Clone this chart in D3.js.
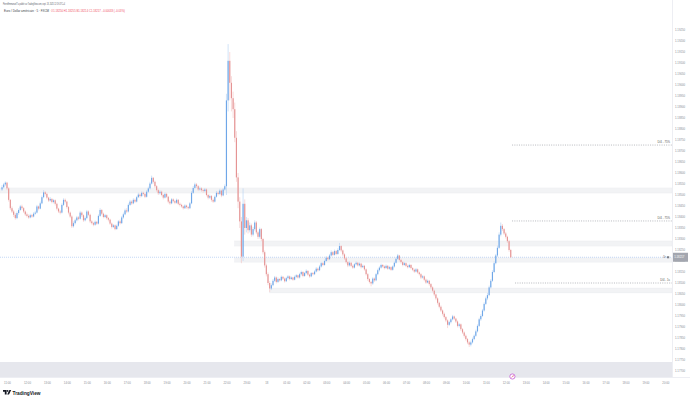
<!DOCTYPE html>
<html><head><meta charset="utf-8">
<script src="https://cdn.jsdelivr.net/npm/d3@7"></script>
<style>
html,body{margin:0;padding:0;background:#fff}
svg{display:block}
text{font-family:"Liberation Sans","DejaVu Sans",Arial,sans-serif}
</style>
</head><body>
<svg id="c" width="690" height="400"></svg>
<script>
// ---------- DATA (EUR/USD, 5-minute candles, chart time UTC+4) ----------
const firstCandle = "2025-09-17T10:45:00Z";
const candleMinutes = 5;

const opens = [1.18525,1.18535,1.18548,1.18556,1.18530,1.18478,1.18440,1.18425,1.18410,1.18395,
1.18418,1.18432,1.18448,1.18440,1.18425,1.18412,1.18405,1.18398,1.18408,1.18402,
1.18415,1.18420,1.18448,1.18438,1.18462,1.18490,1.18512,1.18505,1.18488,1.18475,
1.18482,1.18468,1.18476,1.18460,1.18438,1.18425,1.18420,1.18455,1.18478,1.18470,
1.18445,1.18420,1.18402,1.18358,1.18372,1.18385,1.18398,1.18392,1.18420,1.18408,
1.18385,1.18395,1.18425,1.18410,1.18380,1.18372,1.18365,1.18378,1.18370,1.18405,
1.18432,1.18415,1.18400,1.18408,1.18395,1.18388,1.18370,1.18355,1.18362,1.18345,
1.18360,1.18380,1.18372,1.18398,1.18412,1.18430,1.18425,1.18455,1.18470,1.18462,
1.18478,1.18470,1.18490,1.18502,1.18495,1.18510,1.18505,1.18492,1.18515,1.18530,
1.18552,1.18578,1.18560,1.18540,1.18522,1.18508,1.18515,1.18500,1.18488,1.18505,
1.18492,1.18470,1.18462,1.18480,1.18472,1.18465,1.18478,1.18460,1.18455,1.18448,
1.18440,1.18452,1.18445,1.18440,1.18462,1.18510,1.18532,1.18548,1.18540,1.18525,
1.18530,1.18522,1.18518,1.18525,1.18500,1.18488,1.18495,1.18478,1.18470,1.18492,
1.18510,1.18505,1.18520,1.18498,1.18525,1.18540,1.18930,1.19110,1.19010,1.18940,
1.18890,1.18760,1.18580,1.18470,1.18380,1.18220,1.18460,1.18350,1.18385,1.18340,
1.18362,1.18320,1.18345,1.18375,1.18330,1.18310,1.18345,1.18300,1.18240,1.18180,
1.18140,1.18100,1.18075,1.18090,1.18110,1.18125,1.18105,1.18118,1.18112,1.18128,
1.18120,1.18108,1.18122,1.18130,1.18118,1.18125,1.18115,1.18128,1.18135,1.18125,
1.18140,1.18150,1.18132,1.18145,1.18155,1.18138,1.18130,1.18145,1.18140,1.18152,
1.18165,1.18158,1.18175,1.18190,1.18182,1.18200,1.18215,1.18208,1.18225,1.18240,
1.18228,1.18245,1.18232,1.18250,1.18268,1.18248,1.18230,1.18212,1.18195,1.18180,
1.18192,1.18178,1.18170,1.18185,1.18192,1.18180,1.18188,1.18172,1.18178,1.18162,
1.18140,1.18118,1.18105,1.18098,1.18120,1.18112,1.18140,1.18158,1.18170,1.18182,
1.18175,1.18168,1.18178,1.18165,1.18172,1.18160,1.18175,1.18192,1.18210,1.18225,
1.18205,1.18195,1.18182,1.18190,1.18178,1.18172,1.18182,1.18168,1.18160,1.18152,
1.18162,1.18148,1.18140,1.18125,1.18130,1.18115,1.18102,1.18110,1.18095,1.18080,
1.18065,1.18048,1.18030,1.18010,1.17992,1.17975,1.17960,1.17945,1.17930,1.17910,
1.17922,1.17935,1.17948,1.17938,1.17925,1.17905,1.17912,1.17890,1.17875,1.17860,
1.17845,1.17830,1.17820,1.17830,1.17845,1.17860,1.17880,1.17905,1.17935,1.17950,
1.17975,1.18005,1.18030,1.18045,1.18080,1.18110,1.18150,1.18190,1.18225,1.18260,
1.18320,1.18360,1.18345,1.18325,1.18310,1.18290,1.18250];

const highs = [1.18545,1.18555,1.18562,1.18560,1.18535,1.18482,1.18448,1.18432,1.18418,1.18425,
1.18440,1.18455,1.18456,1.18445,1.18430,1.18420,1.18412,1.18415,1.18414,1.18422,
1.18428,1.18455,1.18452,1.18470,1.18498,1.18522,1.18518,1.18510,1.18492,1.18490,
1.18486,1.18482,1.18480,1.18465,1.18442,1.18432,1.18462,1.18485,1.18484,1.18474,
1.18450,1.18425,1.18408,1.18380,1.18392,1.18405,1.18404,1.18428,1.18425,1.18412,
1.18402,1.18432,1.18430,1.18415,1.18386,1.18378,1.18384,1.18382,1.18412,1.18440,
1.18436,1.18420,1.18414,1.18412,1.18400,1.18392,1.18375,1.18368,1.18366,1.18366,
1.18386,1.18388,1.18405,1.18420,1.18438,1.18440,1.18462,1.18478,1.18476,1.18485,
1.18484,1.18496,1.18510,1.18508,1.18516,1.18515,1.18510,1.18522,1.18538,1.18560,
1.18588,1.18582,1.18565,1.18545,1.18528,1.18522,1.18520,1.18505,1.18512,1.18510,
1.18496,1.18476,1.18486,1.18485,1.18478,1.18484,1.18482,1.18466,1.18460,1.18452,
1.18458,1.18456,1.18450,1.18468,1.18518,1.18540,1.18556,1.18554,1.18545,1.18538,
1.18535,1.18528,1.18532,1.18530,1.18505,1.18502,1.18500,1.18484,1.18498,1.18518,
1.18516,1.18528,1.18525,1.18532,1.18548,1.18960,1.19186,1.19150,1.19040,1.18970,
1.18920,1.18790,1.18600,1.18490,1.18400,1.18530,1.18480,1.18400,1.18395,1.18375,
1.18370,1.18355,1.18385,1.18382,1.18338,1.18352,1.18350,1.18305,1.18248,1.18188,
1.18148,1.18108,1.18098,1.18118,1.18132,1.18130,1.18125,1.18122,1.18134,1.18132,
1.18125,1.18128,1.18136,1.18134,1.18130,1.18128,1.18134,1.18140,1.18138,1.18146,
1.18156,1.18154,1.18150,1.18162,1.18158,1.18142,1.18150,1.18150,1.18158,1.18172,
1.18170,1.18182,1.18196,1.18195,1.18206,1.18222,1.18220,1.18232,1.18248,1.18245,
1.18252,1.18250,1.18258,1.18282,1.18272,1.18252,1.18235,1.18218,1.18200,1.18198,
1.18196,1.18184,1.18190,1.18198,1.18196,1.18194,1.18192,1.18184,1.18182,1.18166,
1.18145,1.18122,1.18110,1.18126,1.18125,1.18146,1.18165,1.18176,1.18188,1.18186,
1.18180,1.18184,1.18182,1.18178,1.18176,1.18180,1.18198,1.18216,1.18232,1.18228,
1.18210,1.18200,1.18196,1.18194,1.18184,1.18188,1.18186,1.18172,1.18165,1.18168,
1.18166,1.18152,1.18145,1.18136,1.18134,1.18120,1.18116,1.18114,1.18100,1.18085,
1.18070,1.18052,1.18035,1.18015,1.17998,1.17980,1.17966,1.17950,1.17935,1.17928,
1.17940,1.17955,1.17952,1.17942,1.17930,1.17918,1.17916,1.17895,1.17880,1.17866,
1.17850,1.17836,1.17838,1.17852,1.17866,1.17888,1.17912,1.17942,1.17958,1.17982,
1.18012,1.18038,1.18055,1.18088,1.18118,1.18158,1.18198,1.18232,1.18270,1.18330,
1.18375,1.18368,1.18350,1.18332,1.18315,1.18296,1.18255];

const lows = [1.18518,1.18530,1.18540,1.18522,1.18470,1.18432,1.18418,1.18400,1.18388,1.18390,
1.18410,1.18428,1.18432,1.18418,1.18405,1.18398,1.18392,1.18394,1.18396,1.18398,
1.18410,1.18416,1.18430,1.18435,1.18458,1.18485,1.18498,1.18480,1.18468,1.18470,
1.18462,1.18462,1.18452,1.18430,1.18418,1.18412,1.18416,1.18450,1.18462,1.18438,
1.18412,1.18395,1.18350,1.18352,1.18366,1.18380,1.18385,1.18388,1.18400,1.18378,
1.18380,1.18390,1.18404,1.18372,1.18366,1.18358,1.18360,1.18364,1.18366,1.18400,
1.18408,1.18394,1.18395,1.18388,1.18380,1.18364,1.18348,1.18350,1.18340,1.18342,
1.18355,1.18366,1.18368,1.18392,1.18408,1.18418,1.18420,1.18450,1.18455,1.18458,
1.18464,1.18466,1.18486,1.18488,1.18490,1.18498,1.18486,1.18488,1.18510,1.18525,
1.18548,1.18552,1.18532,1.18515,1.18500,1.18502,1.18494,1.18480,1.18484,1.18486,
1.18462,1.18455,1.18458,1.18466,1.18458,1.18460,1.18454,1.18448,1.18442,1.18434,
1.18436,1.18438,1.18434,1.18436,1.18458,1.18505,1.18526,1.18532,1.18518,1.18520,
1.18515,1.18510,1.18512,1.18494,1.18480,1.18482,1.18470,1.18464,1.18466,1.18488,
1.18498,1.18500,1.18490,1.18494,1.18520,1.18500,1.18880,1.18930,1.18880,1.18850,
1.18740,1.18560,1.18440,1.18350,1.18190,1.18200,1.18320,1.18330,1.18325,1.18330,
1.18310,1.18312,1.18338,1.18322,1.18300,1.18302,1.18290,1.18230,1.18170,1.18130,
1.18090,1.18059,1.18068,1.18085,1.18104,1.18098,1.18100,1.18106,1.18108,1.18114,
1.18102,1.18104,1.18116,1.18112,1.18114,1.18110,1.18112,1.18122,1.18120,1.18120,
1.18134,1.18126,1.18128,1.18140,1.18132,1.18124,1.18126,1.18134,1.18136,1.18148,
1.18152,1.18154,1.18170,1.18176,1.18178,1.18196,1.18202,1.18204,1.18220,1.18222,
1.18224,1.18226,1.18228,1.18246,1.18240,1.18222,1.18205,1.18188,1.18172,1.18175,
1.18172,1.18164,1.18166,1.18180,1.18175,1.18175,1.18166,1.18168,1.18156,1.18134,
1.18110,1.18098,1.18085,1.18092,1.18105,1.18108,1.18135,1.18152,1.18165,1.18170,
1.18162,1.18164,1.18160,1.18160,1.18155,1.18156,1.18170,1.18188,1.18205,1.18198,
1.18188,1.18176,1.18178,1.18172,1.18166,1.18168,1.18162,1.18154,1.18146,1.18148,
1.18142,1.18134,1.18118,1.18120,1.18108,1.18096,1.18098,1.18088,1.18072,1.18058,
1.18040,1.18022,1.18002,1.17985,1.17968,1.17952,1.17938,1.17922,1.17895,1.17904,
1.17916,1.17930,1.17932,1.17918,1.17898,1.17898,1.17882,1.17868,1.17852,1.17838,
1.17822,1.17809,1.17812,1.17825,1.17840,1.17855,1.17875,1.17900,1.17928,1.17945,
1.17970,1.18000,1.18022,1.18040,1.18075,1.18105,1.18145,1.18185,1.18218,1.18255,
1.18312,1.18336,1.18318,1.18302,1.18282,1.18242,1.18214];

const closes = [1.18535,1.18548,1.18556,1.18530,1.18478,1.18440,1.18425,1.18410,1.18395,1.18418,
1.18432,1.18448,1.18440,1.18425,1.18412,1.18405,1.18398,1.18408,1.18402,1.18415,
1.18420,1.18448,1.18438,1.18462,1.18490,1.18512,1.18505,1.18488,1.18475,1.18482,
1.18468,1.18476,1.18460,1.18438,1.18425,1.18420,1.18455,1.18478,1.18470,1.18445,
1.18420,1.18402,1.18358,1.18372,1.18385,1.18398,1.18392,1.18420,1.18408,1.18385,
1.18395,1.18425,1.18410,1.18380,1.18372,1.18365,1.18378,1.18370,1.18405,1.18432,
1.18415,1.18400,1.18408,1.18395,1.18388,1.18370,1.18355,1.18362,1.18345,1.18360,
1.18380,1.18372,1.18398,1.18412,1.18430,1.18425,1.18455,1.18470,1.18462,1.18478,
1.18470,1.18490,1.18502,1.18495,1.18510,1.18505,1.18492,1.18515,1.18530,1.18552,
1.18578,1.18560,1.18540,1.18522,1.18508,1.18515,1.18500,1.18488,1.18505,1.18492,
1.18470,1.18462,1.18480,1.18472,1.18465,1.18478,1.18460,1.18455,1.18448,1.18440,
1.18452,1.18445,1.18440,1.18462,1.18510,1.18532,1.18548,1.18540,1.18525,1.18530,
1.18522,1.18518,1.18525,1.18500,1.18488,1.18495,1.18478,1.18470,1.18492,1.18510,
1.18505,1.18520,1.18498,1.18525,1.18540,1.18930,1.19110,1.19010,1.18940,1.18890,
1.18760,1.18580,1.18470,1.18380,1.18220,1.18460,1.18350,1.18385,1.18340,1.18362,
1.18320,1.18345,1.18375,1.18330,1.18310,1.18345,1.18300,1.18240,1.18180,1.18140,
1.18100,1.18075,1.18090,1.18110,1.18125,1.18105,1.18118,1.18112,1.18128,1.18120,
1.18108,1.18122,1.18130,1.18118,1.18125,1.18115,1.18128,1.18135,1.18125,1.18140,
1.18150,1.18132,1.18145,1.18155,1.18138,1.18130,1.18145,1.18140,1.18152,1.18165,
1.18158,1.18175,1.18190,1.18182,1.18200,1.18215,1.18208,1.18225,1.18240,1.18228,
1.18245,1.18232,1.18250,1.18268,1.18248,1.18230,1.18212,1.18195,1.18180,1.18192,
1.18178,1.18170,1.18185,1.18192,1.18180,1.18188,1.18172,1.18178,1.18162,1.18140,
1.18118,1.18105,1.18098,1.18120,1.18112,1.18140,1.18158,1.18170,1.18182,1.18175,
1.18168,1.18178,1.18165,1.18172,1.18160,1.18175,1.18192,1.18210,1.18225,1.18205,
1.18195,1.18182,1.18190,1.18178,1.18172,1.18182,1.18168,1.18160,1.18152,1.18162,
1.18148,1.18140,1.18125,1.18130,1.18115,1.18102,1.18110,1.18095,1.18080,1.18065,
1.18048,1.18030,1.18010,1.17992,1.17975,1.17960,1.17945,1.17930,1.17910,1.17922,
1.17935,1.17948,1.17938,1.17925,1.17905,1.17912,1.17890,1.17875,1.17860,1.17845,
1.17830,1.17820,1.17830,1.17845,1.17860,1.17880,1.17905,1.17935,1.17950,1.17975,
1.18005,1.18030,1.18045,1.18080,1.18110,1.18150,1.18190,1.18225,1.18260,1.18320,
1.18360,1.18345,1.18325,1.18310,1.18290,1.18250,1.18217];

const priceTicks = [1.17700,1.17750,1.17800,1.17850,1.17900,1.17950,1.18000,1.18050,
1.18100,1.18150,1.18200,1.18250,1.18300,1.18350,1.18400,1.18450,1.18500,1.18550,1.18600,
1.18650,1.18700,1.18750,1.18800,1.18850,1.18900,1.18950,1.19000,1.19050,1.19100,1.19150,
1.19200,1.19250];

const timeTickStart = "2025-09-17T11:00:00Z";
const timeTickLabels = ["11:00","12:00","13:00","14:00","15:00","16:00","17:00","18:00",
"19:00","20:00","21:00","22:00","23:00","18","01:00","02:00","03:00","04:00","05:00",
"06:00","07:00","08:00","09:00","10:00","11:00","12:00","13:00","14:00","15:00","16:00",
"17:00","18:00","19:00","20:00"];

// grey zones (support / resistance boxes)
const zoneStart  = [null, "2025-09-17T22:25:00Z", "2025-09-17T22:25:00Z", "2025-09-18T00:10:00Z", null];
const zoneBottom = [1.18509, 1.18268, 1.18195, 1.18055, 1.17660];
const zoneTop    = [1.18532, 1.18291, 1.18214, 1.18077, 1.17741];

// dotted levels
const levelStart  = ["2025-09-18T12:19:00Z", "2025-09-18T12:19:00Z", "2025-09-18T12:28:00Z"];
const levelPrice  = [1.18727, 1.18382, 1.18100];
const levelLabels = ["D/4 - 75%", "D/4 - 75%", "D/4 - 1s"];

const lastPrice = 1.18217;
const headerLine1 = "PierreEmmanuelT a publié sur TradingView.com, sept. 18, 2025 12:19 UTC+4";
const headerSymbol = "Euro / Dollar américain · 5 · FXCM";
const headerOHLC = "O1.18250 H1.18255 B1.18214 C1.18217 −0.00033 (−0.03%)";

// ---------- DRAW ----------
const svg = d3.select("#c");
const plotRight = 672, plotBottom = 377;
const upBody = "#6fa7e8", upWick = "#b1d0f3", dnBody = "#e59494", dnWick = "#f3c2c2";

const t0 = Date.parse(firstCandle);
const times = closes.map((_, i) => new Date(t0 + i * candleMinutes * 60000));

const tickStart = new Date(timeTickStart);
const tickValues = timeTickLabels.map((_, i) => new Date(tickStart.getTime() + i * 3600000));

const x = d3.scaleUtc().domain([tickValues[0], tickValues[tickValues.length - 1]]).range([7, 665.35]);
const y = d3.scaleLinear().domain([1.177, 1.1925]).range([371, 30]);

svg.append("defs").append("clipPath").attr("id", "plot")
  .append("rect").attr("x", 0).attr("y", 0).attr("width", plotRight).attr("height", plotBottom);

const plot = svg.append("g").attr("clip-path", "url(#plot)");

// zones
plot.selectAll("rect.zone").data(zoneTop).join("rect").attr("class", "zone")
  .attr("x", (d, i) => zoneStart[i] ? x(new Date(zoneStart[i])) : 0)
  .attr("width", (d, i) => plotRight - (zoneStart[i] ? x(new Date(zoneStart[i])) : 0))
  .attr("y", d => y(d))
  .attr("height", (d, i) => y(zoneBottom[i]) - y(d))
  .attr("fill", (d, i) => i === 4 ? "#e6e7ed" : "#f2f3f5")
  .attr("stroke", (d, i) => i === 4 ? "none" : "#e8e9ee").attr("stroke-width", 0.4);

// current price line (dotted blue)
plot.append("line")
  .attr("x1", 0).attr("x2", plotRight)
  .attr("y1", y(lastPrice)).attr("y2", y(lastPrice))
  .attr("stroke", "#9cc0f0").attr("stroke-width", 0.6).attr("stroke-dasharray", "1,1");

// dotted levels
plot.selectAll("line.level").data(levelPrice).join("line").attr("class", "level")
  .attr("x1", (d, i) => x(new Date(levelStart[i]))).attr("x2", plotRight)
  .attr("y1", d => y(d)).attr("y2", d => y(d))
  .attr("stroke", "#9a9ca3").attr("stroke-width", 0.7).attr("stroke-dasharray", "1,1.3");
svg.selectAll("text.level").data(levelPrice).join("text").attr("class", "level")
  .attr("x", 670).attr("y", d => y(d) - 1.6)
  .attr("text-anchor", "end").attr("font-size", 2.8).attr("fill", "#555")
  .text((d, i) => levelLabels[i]);

// candles
const cg = plot.append("g");
const bw = 1.15;
closes.forEach((c, i) => {
  const o = opens[i], up = c >= o;
  const cx = x(times[i]);
  cg.append("line").attr("x1", cx).attr("x2", cx)
    .attr("y1", y(highs[i])).attr("y2", y(lows[i]))
    .attr("stroke", up ? upWick : dnWick).attr("stroke-width", 0.6);
  const yt = y(Math.max(o, c)), yb = y(Math.min(o, c));
  cg.append("rect").attr("x", cx - bw / 2).attr("width", bw)
    .attr("y", yt).attr("height", Math.max(0.6, yb - yt))
    .attr("fill", up ? upBody : dnBody);
});

// separators
svg.append("line").attr("x1", plotRight + 0.5).attr("x2", plotRight + 0.5).attr("y1", 0).attr("y2", plotBottom)
  .attr("stroke", "#e0e3eb").attr("stroke-width", 0.6);
svg.append("line").attr("x1", 0).attr("x2", 690).attr("y1", plotBottom + 0.5).attr("y2", plotBottom + 0.5)
  .attr("stroke", "#e0e3eb").attr("stroke-width", 0.6);

// axes
const yAxis = svg.append("g").attr("transform", `translate(${plotRight},0)`)
  .call(d3.axisRight(y).tickValues(priceTicks).tickSize(0).tickPadding(3).tickFormat(d3.format(".5f")));
yAxis.select(".domain").remove();
yAxis.selectAll("text").attr("font-size", 2.8).attr("fill", "#8a8d96")
  .attr("font-family", "Liberation Sans, Arial, sans-serif");

const xAxis = svg.append("g").attr("transform", `translate(0,${plotBottom})`)
  .call(d3.axisBottom(x).tickValues(tickValues).tickSize(0).tickPadding(5)
    .tickFormat((d, i) => timeTickLabels[i]));
xAxis.select(".domain").remove();
xAxis.selectAll("text").attr("font-size", 2.8).attr("fill", "#8a8d96")
  .attr("font-family", "Liberation Sans, Arial, sans-serif");

// last price label
const ly = y(lastPrice);
svg.append("rect").attr("x", plotRight + 1).attr("y", ly - 4.5).attr("width", 15).attr("height", 9)
  .attr("fill", "#a3a6af");
svg.append("text").attr("x", plotRight + 2.2).attr("y", ly + 1).attr("font-size", 2.8)
  .attr("fill", "#fff").text(d3.format(".5f")(lastPrice));
svg.append("text").attr("x", 666).attr("y", ly + 1).attr("font-size", 2.6)
  .attr("fill", "#666").attr("text-anchor", "end").text("Dr");
svg.append("rect").attr("x", 667).attr("y", ly - 1).attr("width", 2.2).attr("height", 2)
  .attr("fill", "#7a7d86");

// header
svg.append("text").attr("x", 3).attr("y", 5).attr("font-size", 2.6).attr("fill", "#50535e")
  .attr("textLength", 62).attr("lengthAdjust", "spacingAndGlyphs").text(headerLine1);
svg.append("text").attr("x", 4).attr("y", 12).attr("font-size", 2.6).attr("fill", "#3a3d47")
  .attr("textLength", 45).attr("lengthAdjust", "spacingAndGlyphs").text(headerSymbol);
svg.append("text").attr("x", 51).attr("y", 12).attr("font-size", 2.6).attr("fill", "#f0505f")
  .attr("textLength", 74).attr("lengthAdjust", "spacingAndGlyphs").text(headerOHLC);

// event marker
const ev = svg.append("g").attr("transform", `translate(${x(new Date("2025-09-18T12:20:00Z"))},376.5)`);
ev.append("circle").attr("r", 2.6).attr("fill", "#fff").attr("stroke", "#c45ad6").attr("stroke-width", 0.8);
ev.append("path").attr("d", "M-0.8,1 L0.9,-1 M0.9,-1 L0.9,0").attr("stroke", "#e04a6a").attr("stroke-width", 0.6).attr("fill", "none");

// TradingView logo
const logo = svg.append("g").attr("transform", "translate(3,390)");
logo.append("path").attr("d", "M0,0 H3.6 V4.6 H1.8 V1.8 H0 Z M4.2,4.6 L6.4,0 H8.2 L6,4.6 Z").attr("fill", "#131722");
logo.append("circle").attr("cx", 4.6).attr("cy", 0.9).attr("r", 0.9).attr("fill", "#131722");
svg.append("text").attr("x", 12.5).attr("y", 394.6).attr("font-size", 5.4).attr("font-weight", 700)
  .attr("fill", "#131722").attr("textLength", 28).attr("lengthAdjust", "spacingAndGlyphs").text("TradingView");
</script>
</body></html>
